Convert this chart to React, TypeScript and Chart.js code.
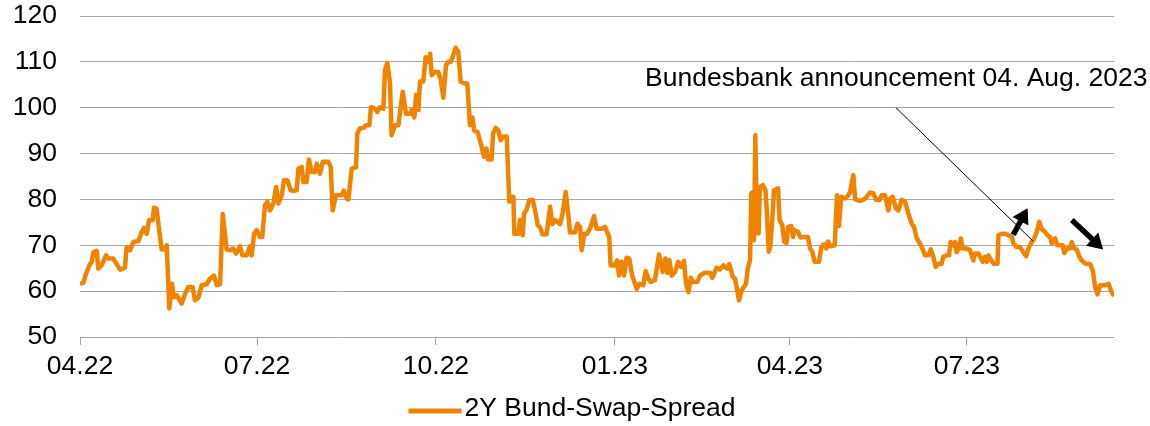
import { useEffect, useRef } from "react";
import { Chart, registerables } from "chart.js";

Chart.register(...registerables);

// ---- data ----
const seriesLabel = "2Y Bund-Swap-Spread";
const tickDays = [0, 91, 183, 275, 365, 456]; // days since 2022-04-01
const tickLabels = ["04.22", "07.22", "10.22", "01.23", "04.23", "07.23"];
const yTicks = { min: 50, max: 120, step: 10 };

const dayOffsets = [
  0, 1.7, 3.1, 4.8, 6.0, 6.9, 8.6, 9.4, 11.1, 13.4, 14.6, 17.1, 19.7, 20.6, 23.1, 24.0, 25.7, 27.4, 30.0, 31.7,
  32.9, 34.3, 35.5, 37.4, 38.0, 39.4, 40.6, 42.0, 43.7, 44.6, 45.9, 47.3, 48.3, 49.7, 52.3, 54.0, 55.7, 57.9, 59.1, 60.8,
  62.6, 65.1, 66.8, 68.9, 70.3, 72.0, 73.4, 75.4, 77.1, 78.8, 80.2, 82.3, 83.5, 85.7, 87.4, 88.3, 89.5, 90.8, 92.5, 93.7,
  95.1, 96.3, 97.7, 99.4, 100.8, 102.0, 103.7, 104.9, 106.6, 108.3, 109.7, 111.4, 112.3, 114.0, 114.8, 116.5, 117.7, 119.1, 120.8, 121.7,
  123.4, 124.8, 127.7, 128.9, 129.9, 131.6, 134.5, 135.7, 137.1, 138.0, 139.7, 141.9, 142.6, 144.0, 145.7, 147.0, 148.8, 149.6, 151.7, 152.9,
  154.2, 156.0, 156.8, 158.0, 159.4, 160.2, 162.0, 163.7, 165.9, 167.6, 169.7, 170.5, 171.9, 172.8, 174.0, 174.8, 176.5, 177.7, 179.1, 180.0,
  180.8, 182.5, 184.2, 185.4, 186.8, 188.2, 189.4, 190.7, 191.9, 193.1, 194.5, 195.7, 197.9, 199.1, 200.5, 201.7, 202.7, 204.4, 206.5, 207.7,
  209.0, 209.9, 211.6, 212.4, 213.7, 215.0, 216.3, 217.6, 219.4, 220.7, 221.9, 222.8, 223.3, 225.4, 226.2, 227.6, 228.3, 229.6, 231.0, 232.8,
  234.3, 235.3, 236.5, 237.7, 239.9, 241.7, 242.9, 244.2, 246.8, 248.1, 249.7, 251.0, 251.9, 254.5, 255.7, 257.1, 257.9, 259.3, 260.8, 262.5,
  264.3, 265.6, 268.2, 269.9, 272.1, 272.8, 275.0, 276.2, 277.1, 278.4, 279.8, 281.0, 282.4, 283.9, 286.2, 287.6, 289.6, 290.8, 292.2, 293.4,
  295.6, 297.7, 299.6, 300.9, 302.0, 303.0, 304.2, 305.9, 307.6, 309.0, 310.5, 311.6, 312.8, 314.0, 315.3, 317.4, 318.8, 321.3, 323.9, 325.1,
  327.3, 329.0, 330.8, 332.8, 333.8, 335.6, 336.8, 337.6, 338.8, 340.2, 342.4, 343.3, 344.5, 345.1, 346.0, 346.5, 347.2, 348.1, 348.9, 349.5,
  351.1, 352.4, 353.2, 354.1, 354.9, 356.0, 356.8, 358.9, 359.7, 361.1, 362.0, 363.2, 364.0, 365.7, 366.6, 367.5, 369.2, 370.4, 371.7, 374.2,
  375.4, 376.5, 377.7, 379.9, 381.2, 382.5, 383.7, 384.6, 385.8, 388.0, 389.2, 390.2, 391.4, 393.3, 395.0, 395.9, 397.6, 398.5, 401.0, 402.7,
  404.5, 406.2, 407.9, 409.3, 411.0, 412.2, 413.9, 415.6, 416.5, 417.8, 419.5, 420.7, 422.5, 424.2, 425.9, 427.6, 428.8, 430.2, 431.9, 433.1,
  434.5, 436.2, 437.4, 438.7, 439.9, 441.6, 443.0, 443.8, 445.6, 446.8, 447.6, 449.0, 449.9, 450.7, 451.9, 452.8, 453.8, 455.9, 457.6, 459.3,
  460.2, 461.9, 464.1, 465.3, 466.2, 467.1, 467.9, 469.6, 471.7, 472.2, 473.9, 475.6, 477.4, 479.1, 479.9, 481.6, 483.3, 485.0, 486.4, 487.6,
  489.3, 490.2, 491.9, 493.2, 494.4, 496.2, 497.4, 498.8, 499.6, 501.3, 502.5, 505.2, 506.1, 507.3, 509.0, 509.9, 511.1, 512.4, 513.8, 515.0,
  516.8, 519.3, 520.7, 521.9, 523.1, 524.5, 527.1, 528.8, 530.0, 531.6,
];

const spreadBp = [
  61.6, 61.8, 63.8, 65.6, 66.4, 68.5, 68.8, 64.9, 65.6, 67.8, 67.1, 67.1, 65.3, 64.7, 65.1, 69.6, 68.9, 70.7, 70.9, 72.9,
  73.8, 72.5, 75.5, 75.5, 78.2, 78.0, 73.6, 69.1, 69.1, 70.0, 56.2, 61.6, 58.7, 59.1, 57.3, 59.4, 60.9, 60.9, 58.0, 58.5,
  61.3, 61.5, 62.7, 63.4, 61.3, 61.5, 76.8, 69.1, 68.9, 69.3, 68.2, 69.8, 67.8, 67.8, 69.8, 67.8, 72.5, 73.3, 71.8, 71.8,
  78.7, 79.5, 77.6, 79.1, 82.7, 79.1, 80.9, 84.2, 84.2, 82.0, 81.9, 82.0, 86.7, 87.1, 83.8, 83.8, 88.7, 86.0, 86.0, 87.8,
  85.6, 88.2, 88.2, 87.1, 77.6, 80.9, 80.9, 81.9, 80.2, 80.0, 86.7, 87.0, 94.4, 95.5, 95.6, 96.2, 96.2, 100.1, 99.8, 99.1,
  100.1, 99.8, 108.2, 109.8, 105.3, 94.0, 96.2, 96.2, 103.5, 98.7, 98.7, 99.5, 97.9, 102.8, 99.5, 105.7, 105.7, 111.0, 110.0, 111.8,
  107.1, 107.8, 107.8, 106.2, 102.2, 109.3, 110.0, 110.0, 111.5, 113.1, 112.2, 105.7, 105.3, 105.3, 96.2, 97.9, 95.0, 94.7, 91.5, 89.3,
  91.1, 88.7, 88.7, 94.4, 95.6, 95.1, 92.9, 93.7, 93.7, 79.5, 80.6, 80.6, 72.5, 72.5, 75.5, 72.2, 76.9, 77.7, 79.9, 79.9,
  76.9, 74.4, 74.0, 72.4, 72.4, 78.4, 74.6, 75.5, 74.6, 76.9, 81.6, 76.9, 72.8, 72.8, 74.7, 74.0, 68.9, 72.5, 72.5, 74.0,
  76.4, 73.6, 73.6, 74.0, 71.8, 65.6, 65.6, 66.7, 63.4, 66.4, 63.4, 67.3, 67.1, 63.4, 60.5, 61.6, 61.3, 64.4, 62.7, 62.0,
  62.4, 68.0, 64.2, 67.1, 64.0, 66.8, 63.4, 64.2, 66.4, 65.3, 66.6, 61.6, 59.8, 62.9, 62.0, 62.0, 63.4, 64.0, 64.0, 62.9,
  65.1, 64.7, 65.6, 64.9, 65.9, 63.1, 62.7, 60.9, 58.0, 60.2, 61.6, 64.9, 66.8, 81.3, 81.6, 71.1, 94.0, 72.6, 72.6, 82.7,
  83.1, 82.0, 76.9, 68.6, 69.7, 76.2, 82.0, 82.4, 75.5, 74.4, 70.8, 70.5, 74.0, 74.2, 71.8, 73.3, 72.9, 71.7, 71.8, 71.8,
  69.3, 68.6, 66.4, 66.4, 69.7, 70.2, 69.3, 70.8, 69.8, 70.0, 80.9, 74.2, 80.6, 80.2, 80.9, 81.6, 85.3, 80.0, 79.7, 79.9,
  80.6, 81.5, 81.3, 79.9, 79.9, 80.9, 80.9, 77.6, 80.2, 80.6, 78.0, 77.6, 79.9, 79.5, 76.9, 74.7, 74.0, 71.5, 70.4, 69.3,
  67.8, 67.8, 69.1, 67.5, 65.3, 66.0, 66.0, 67.5, 67.8, 67.8, 70.7, 70.0, 70.7, 68.5, 69.3, 71.5, 69.3, 69.3, 68.9, 66.7,
  68.2, 68.2, 66.4, 67.5, 66.4, 67.8, 67.1, 66.0, 66.0, 72.2, 72.5, 72.5, 72.2, 71.8, 70.4, 69.6, 69.6, 68.5, 67.6, 69.3,
  70.7, 71.1, 72.9, 75.1, 73.6, 72.9, 72.2, 71.8, 70.4, 71.5, 70.0, 70.0, 68.3, 69.3, 69.3, 70.7, 69.3, 69.1, 67.5, 66.7,
  66.0, 65.9, 64.5, 60.9, 59.3, 61.3, 61.3, 61.6, 60.2, 58.9,
];

// annotation anchors, in data units (day, value)
const annotationText = "Bundesbank announcement 04. Aug. 2023";
const annotationTextAnchor = { day: 290.5, value: 104.7 };
const annotationLeader = { from: { day: 419.5, value: 100 }, to: { day: 490, value: 70.9 } };
const trendArrows = [
  { from: { day: 479.8, value: 72.3 }, to: { day: 487.2, value: 78.1 } },
  { from: { day: 509.9, value: 75.5 }, to: { day: 526.0, value: 69.1 } },
];

// ---- styles ----
const FONT = '"Liberation Sans", Arial, Helvetica, sans-serif';
const FONT_SIZE = 26.5;
const ORANGE = "#F08300";
const GRID = "#a6a6a6";
const TEXT = "#000000";

function drawArrow(ctx: CanvasRenderingContext2D, x1: number, y1: number, x2: number, y2: number) {
  const ang = Math.atan2(y2 - y1, x2 - x1);
  const headLen = 15;
  const headHalf = 9;
  const bx = x2 - headLen * Math.cos(ang);
  const by = y2 - headLen * Math.sin(ang);
  ctx.strokeStyle = "#000";
  ctx.fillStyle = "#000";
  ctx.lineWidth = 5.5;
  ctx.lineCap = "butt";
  ctx.beginPath();
  ctx.moveTo(x1, y1);
  ctx.lineTo(bx + Math.cos(ang), by + Math.sin(ang));
  ctx.stroke();
  ctx.beginPath();
  ctx.moveTo(x2, y2);
  ctx.lineTo(bx + headHalf * Math.sin(ang), by - headHalf * Math.cos(ang));
  ctx.lineTo(bx - headHalf * Math.sin(ang), by + headHalf * Math.cos(ang));
  ctx.closePath();
  ctx.fill();
}

const overlayPlugin = {
  id: "overlay",
  afterDatasetsDraw(chart: any) {
    const { ctx, scales } = chart;
    const xs = scales.x;
    const ys = scales.y;
    const px = (p: { day: number; value: number }) => [xs.getPixelForValue(p.day), ys.getPixelForValue(p.value)];
    ctx.save();
    // leader line
    const [lx1, ly1] = px(annotationLeader.from);
    const [lx2, ly2] = px(annotationLeader.to);
    ctx.strokeStyle = "#000";
    ctx.lineWidth = 1;
    ctx.beginPath();
    ctx.moveTo(lx1, ly1);
    ctx.lineTo(lx2, ly2);
    ctx.stroke();
    // text
    const [tx, ty] = px(annotationTextAnchor);
    ctx.font = `${FONT_SIZE}px ${FONT}`;
    ctx.fillStyle = TEXT;
    ctx.textAlign = "left";
    ctx.textBaseline = "alphabetic";
    ctx.fillText(annotationText, tx, ty);
    // arrows
    for (const a of trendArrows) {
      const [ax1, ay1] = px(a.from);
      const [ax2, ay2] = px(a.to);
      drawArrow(ctx, ax1, ay1, ax2, ay2);
    }
    // legend
    const ds = chart.data.datasets[0];
    const sampleW = 53;
    const gap = 3;
    ctx.font = `${FONT_SIZE}px ${FONT}`;
    const tw = ctx.measureText(ds.label).width;
    const total = sampleW + gap + tw;
    const lx = chart.width / 2 - total / 2 - 3;
    const legendY = 410;
    ctx.strokeStyle = ds.borderColor;
    ctx.lineWidth = 5;
    ctx.beginPath();
    ctx.moveTo(lx, legendY + 1);
    ctx.lineTo(lx + sampleW, legendY + 1);
    ctx.stroke();
    ctx.fillStyle = TEXT;
    ctx.textBaseline = "middle";
    ctx.fillText(ds.label, lx + sampleW + gap, legendY - 1);
    ctx.restore();
  },
};

export default function App() {
  const ref = useRef<HTMLCanvasElement | null>(null);

  useEffect(() => {
    document.body.style.margin = "0";
    if (!ref.current) return;
    const points = dayOffsets.map((d, i) => ({ x: d, y: spreadBp[i] }));
    const chart = new Chart(ref.current, {
      type: "line",
      data: {
        datasets: [
          {
            label: seriesLabel,
            data: points,
            borderColor: ORANGE,
            backgroundColor: ORANGE,
            borderWidth: 4.5,
            pointRadius: 0,
            tension: 0,
            borderJoinStyle: "round",
          },
        ],
      },
      options: {
        responsive: false,
        animation: false,
        devicePixelRatio: 1,
        layout: { padding: { top: 16, right: 36, bottom: 0, left: 0 } },
        plugins: { legend: { display: false }, tooltip: { enabled: false } },
        scales: {
          x: {
            type: "linear",
            min: 0,
            max: dayOffsets[dayOffsets.length - 1],
            afterBuildTicks: (scale: any) => {
              scale.ticks = tickDays.map((v) => ({ value: v }));
            },
            afterFit: (scale: any) => {
              scale.height = 89;
            },
            ticks: {
              autoSkip: false,
              maxRotation: 0,
              minRotation: 0,
              padding: 6,
              color: TEXT,
              font: { family: FONT, size: FONT_SIZE },
              callback: (v: any) => {
                const i = tickDays.indexOf(Number(v));
                return i >= 0 ? tickLabels[i] : "";
              },
            },
            grid: {
              drawOnChartArea: false,
              drawTicks: true,
              tickLength: 8,
              color: GRID,
              lineWidth: 1,
            },
            border: { display: false },
          },
          y: {
            min: yTicks.min,
            max: yTicks.max,
            afterFit: (scale: any) => {
              scale.width = 80;
              scale.paddingTop = 12;
              scale.paddingBottom = 12;
            },
            ticks: {
              stepSize: yTicks.step,
              padding: 23,
              color: TEXT,
              font: { family: FONT, size: FONT_SIZE },
            },
            grid: { color: GRID, lineWidth: 1, drawTicks: false },
            border: { display: false },
          },
        },
      },
      plugins: [overlayPlugin],
    });
    return () => chart.destroy();
  }, []);

  return (
    <div style={{ width: 1150, height: 426 }}>
      <canvas ref={ref} width={1150} height={426} style={{ display: "block" }} />
    </div>
  );
}
